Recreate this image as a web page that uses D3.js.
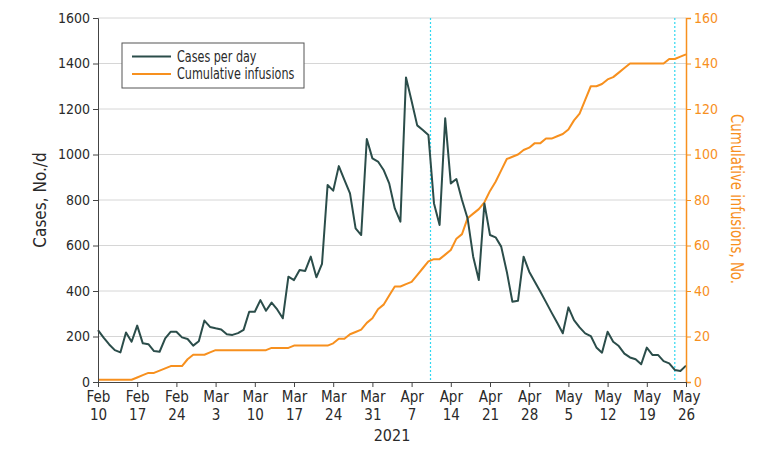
<!DOCTYPE html>
<html><head><meta charset="utf-8">
<script src="https://cdn.jsdelivr.net/npm/d3@7"></script>
<style>
body{margin:0;background:#fff}
svg{display:block}
text{font-family:"Liberation Sans Narrow","DejaVu Sans Condensed","Roboto Condensed",Lato,sans-serif}
</style>
</head><body>
<svg id="chart" width="780" height="452"></svg>
<script>
// ---- data ----
const startDate = "2021-02-10";
const endDate = "2021-05-26";
const casesPerDay = [
  228,195,165,140,130,218,177,248,170,166,
  136,133,192,221,221,196,189,160,179,270,
  242,236,231,210,207,215,229,309,309,360,
  313,349,319,280,463,448,492,488,551,460,
  519,866,841,949,888,829,675,646,1068,983,
  969,932,873,763,705,1339,1235,1128,1108,1086,
  785,690,1159,873,892,800,719,551,448,785,
  646,636,595,485,353,357,551,485,441,397,
  351,305,260,214,328,272,240,214,202,152,
  129,221,177,158,125,108,100,78,151,119,
  119,92,82,53,48,72];
const cumulativeInfusions = [
  1,1,1,1,1,1,1,2,3,4,
  4,5,6,7,7,7,10,12,12,12,
  13,14,14,14,14,14,14,14,14,14,
  14,15,15,15,15,16,16,16,16,16,
  16,16,17,19,19,21,22,23,26,28,
  32,34,38,42,42,43,44,47,50,53,
  54,54,56,58,63,65,72,74,76,79,
  84,88,93,98,99,100,102,103,105,105,
  107,107,108,109,111,115,118,124,130,130,
  131,133,134,136,138,140,140,140,140,140,
  140,140,142,142,143,144];
const markerDates = ["2021-04-10T09:00", "2021-05-24T00:00"];
const leftTicks = [0,200,400,600,800,1000,1200,1400,1600];
const rightTicks = [0,20,40,60,80,100,120,140,160];
const seriesNames = ["Cases per day", "Cumulative infusions"];
const xTitle = "2021";
const leftTitle = "Cases, No./d";
const rightTitle = "Cumulative infusions, No.";

// ---- setup ----
const W = 780, H = 452;
const m = {left: 98, right: 94, top: 18, bottom: 70};
const iw = W - m.left - m.right, ih = H - m.top - m.bottom;
const dark = "#2b4d4a", orange = "#f7901e", cyan = "#2fd8f0", ink = "#2a2a2a";

const parse = d3.utcParse("%Y-%m-%d");
const parseT = d3.utcParse("%Y-%m-%dT%H:%M");
const d0 = parse(startDate), d1 = parse(endDate);
const days = d3.utcDay.range(d0, d3.utcDay.offset(d1, 1));
const cases = days.map((d, i) => ({date: d, v: casesPerDay[i]}));
const cum = days.map((d, i) => ({date: d, v: cumulativeInfusions[i]}));

const x = d3.scaleUtc().domain([d0, d1]).range([0, iw]);
const yL = d3.scaleLinear().domain([0, 1600]).range([ih, 0]);
const yR = d3.scaleLinear().domain([0, 160]).range([ih, 0]);

const svg = d3.select("#chart");
const g = svg.append("g").attr("transform", `translate(${m.left},${m.top})`);

// gridlines
g.append("g").selectAll("line").data(leftTicks.filter(t => t > 0)).join("line")
  .attr("x1", 0).attr("x2", iw)
  .attr("y1", d => yL(d)).attr("y2", d => yL(d))
  .attr("stroke", "#d6d6d6").attr("stroke-width", 1);

// marker dotted lines
g.append("g").selectAll("line").data(markerDates.map(s => parseT(s))).join("line")
  .attr("x1", d => x(d)).attr("x2", d => x(d))
  .attr("y1", 0).attr("y2", ih)
  .attr("stroke", cyan).attr("stroke-width", 1.2).attr("stroke-dasharray", "2,2");

// lines
const lineL = d3.line().x(d => x(d.date)).y(d => yL(d.v));
const lineR = d3.line().x(d => x(d.date)).y(d => yR(d.v));
g.append("path").datum(cum).attr("d", lineR).attr("fill", "none")
  .attr("stroke", orange).attr("stroke-width", 2).attr("stroke-linejoin", "round");
g.append("path").datum(cases).attr("d", lineL).attr("fill", "none")
  .attr("stroke", dark).attr("stroke-width", 2).attr("stroke-linejoin", "round");

// left axis
const axL = g.append("g").call(d3.axisLeft(yL).tickValues(leftTicks).tickSize(5).tickPadding(3).tickFormat(d3.format("d")));
axL.selectAll("text").attr("font-size", 14).attr("fill", ink);
axL.selectAll("line,path").attr("stroke", "#444");

// right axis
const axR = g.append("g").attr("transform", `translate(${iw},0)`)
  .call(d3.axisRight(yR).tickValues(rightTicks).tickSize(5).tickPadding(3).tickFormat(d3.format("d")));
axR.selectAll("text").attr("font-size", 14).attr("fill", orange).attr("dy", "0.3em");
axR.selectAll("line,path").attr("stroke", orange);
axR.select("path").attr("stroke-width", 1.5);

// bottom axis
const xticks = d3.utcDay.range(d0, d3.utcDay.offset(d1, 1), 7);
const axB = g.append("g").attr("transform", `translate(0,${ih})`)
  .call(d3.axisBottom(x).tickValues(xticks).tickSize(5).tickFormat(""));
axB.selectAll("line,path").attr("stroke", "#444");
const fmtM = d3.utcFormat("%b"), fmtD = d3.utcFormat("%-d");
axB.selectAll(".tick").append("text")
  .attr("text-anchor", "middle").attr("font-size", 15).attr("fill", ink)
  .each(function(d) {
    const t = d3.select(this);
    t.append("tspan").attr("x", 0).attr("y", 20).text(fmtM(d));
    t.append("tspan").attr("x", 0).attr("y", 38).text(fmtD(d));
  });

// titles
svg.append("text").attr("x", m.left + iw / 2).attr("y", 441)
  .attr("text-anchor", "middle").attr("font-size", 16).attr("fill", ink).text(xTitle);
svg.append("text").attr("transform", `translate(46,${m.top + ih / 2}) rotate(-90)`)
  .attr("text-anchor", "middle").attr("font-size", 17).attr("fill", ink).text(leftTitle);
svg.append("text").attr("transform", `translate(731,${m.top + ih / 2 - 1}) rotate(90) scale(0.87,1)`)
  .attr("text-anchor", "middle").attr("font-size", 17).attr("fill", orange).text(rightTitle);

// legend
const lg = svg.append("g").attr("transform", "translate(122,43)");
lg.append("rect").attr("width", 182).attr("height", 45)
  .attr("fill", "#fff").attr("stroke", "#555").attr("stroke-width", 1);
[dark, orange].forEach((c, i) => {
  const yy = 13.5 + i * 17.5;
  lg.append("line").attr("x1", 10).attr("x2", 49).attr("y1", yy).attr("y2", yy)
    .attr("stroke", c).attr("stroke-width", 2);
  lg.append("text").attr("transform", `translate(55,${yy + 5}) scale(0.83,1)`)
    .attr("font-size", 15).attr("fill", ink).text(seriesNames[i]);
});
</script>
</body></html>
